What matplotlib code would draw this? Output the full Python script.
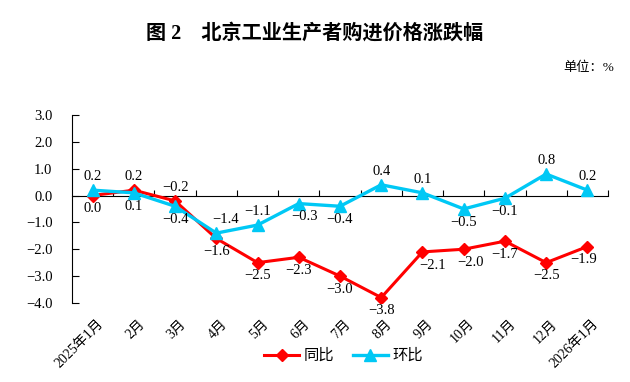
import matplotlib
matplotlib.use("Agg")
import matplotlib.pyplot as plt
import matplotlib.transforms as mtransforms

plt.rcParams['font.family'] = ['Liberation Serif', 'Noto Sans CJK SC', 'DejaVu Sans']
plt.rcParams['axes.unicode_minus'] = False

# data
months = ["2025年1月", "2月", "3月", "4月", "5月", "6月", "7月", "8月",
          "9月", "10月", "11月", "12月", "2026年1月"]
yoy = [0.0, 0.2, -0.2, -1.6, -2.5, -2.3, -3.0, -3.8, -2.1, -2.0, -1.7, -2.5, -1.9]
mom = [0.2, 0.1, -0.4, -1.4, -1.1, -0.3, -0.4, 0.4, 0.1, -0.5, -0.1, 0.8, 0.2]

# label placement: 1 = above point, -1 = below point, plus sideways nudge (pt)
yoy_side = [-1, 1, 1, -1, -1, -1, -1, -1, -1, -1, -1, -1, -1]
yoy_dx = [0, 0, 0, 0, 0, 0, 0, 0, 7, 5, 0, 0, -3]
mom_side = [1, -1, -1, 1, 1, -1, -1, 1, 1, -1, -1, 1, 1]
mom_dx = [0, 0, 0, 7, 0, 4, 0, 0, 0, 0, 0, 0, 0]

RED = "#FF0000"
BLUE = "#00C8F5"

fig = plt.figure(figsize=(6.3, 3.82), dpi=100)
ax = fig.add_axes([0.1143, 0.207, 0.8508, 0.492])

x = list(range(len(months)))
ax.plot(x, yoy, color=RED, lw=2.2, marker="D", ms=6, label="同比", zorder=3)
ax.plot(x, mom, color=BLUE, lw=2.4, marker="^", ms=8, label="环比", zorder=4)

ax.set_xlim(-0.5, len(months) - 0.5)
ax.set_ylim(-4.0, 3.0)
yt = [3, 2, 1, 0, -1, -2, -3, -4]
ax.set_yticks(yt)
ax.set_yticklabels([f"{v:.1f}".replace("-", "−") for v in yt], fontsize=10.5)
ax.tick_params(axis="y", direction="in", length=5, width=0.8, pad=14)

for s in ["top", "right"]:
    ax.spines[s].set_visible(False)
ax.spines["left"].set_linewidth(0.8)
ax.spines["bottom"].set_position(("data", 0))
ax.spines["bottom"].set_linewidth(0.8)
ax.set_xticks([i + 0.5 for i in range(len(months))])
ax.set_xticklabels([])
ax.tick_params(axis="x", direction="in", length=4, width=0.8)

# month labels under the plot
trans = mtransforms.blended_transform_factory(ax.transData, ax.transAxes)
for i, m in enumerate(months):
    ax.text(i + 0.1, -0.075, m, transform=trans, rotation=45, ha="right", va="top",
            fontsize=10, rotation_mode="anchor")

def fmt(v):
    return f"{v:.1f}".replace("-", "−")

for vals, sides, dxs in [(yoy, yoy_side, yoy_dx), (mom, mom_side, mom_dx)]:
    for i, v in enumerate(vals):
        ax.annotate(fmt(v), (i, v), xytext=(dxs[i], 9.5 * sides[i]), textcoords="offset points",
                    ha="center", va="center", fontsize=10.5, zorder=5)

fig.text(0.5, 0.913, "图 2　北京工业生产者购进价格涨跌幅", ha="center", va="center",
         fontsize=14.5, fontweight="bold")
fig.text(0.975, 0.822, "单位：%", ha="right", va="center", fontsize=9.5)

fig.legend(loc="center", bbox_to_anchor=(0.545, 0.068), ncol=2, frameon=False,
           fontsize=11, handlelength=2.3, columnspacing=1.2, handletextpad=0.3)

fig.savefig("out.png", dpi=100)
